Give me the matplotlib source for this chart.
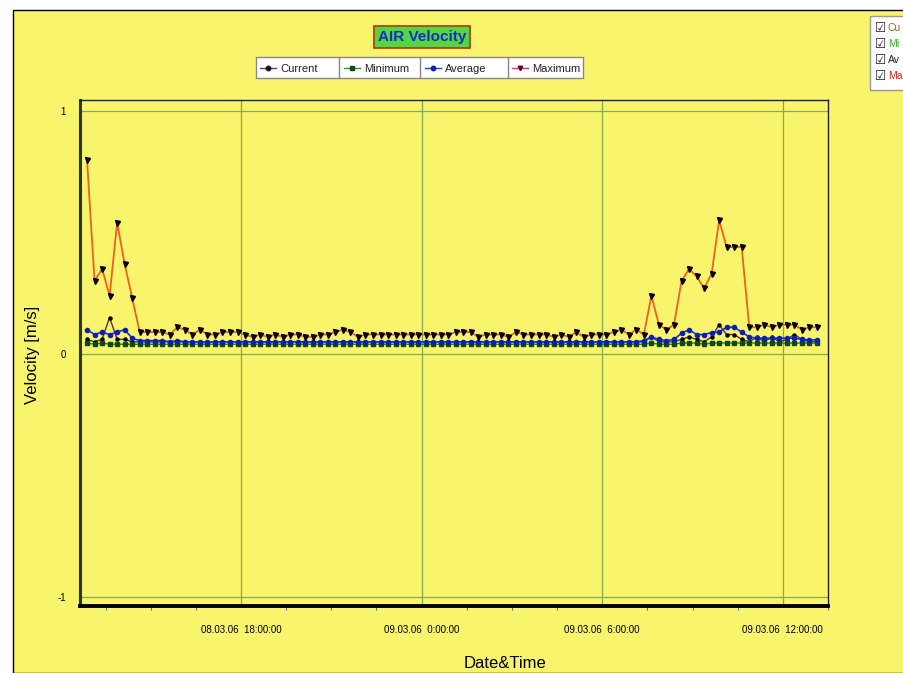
import pandas as pd
import matplotlib
matplotlib.use("Agg")
import matplotlib.pyplot as plt
from matplotlib.lines import Line2D
from matplotlib.patches import Rectangle

# sampling: every 15 minutes from 08.03.06 12:53
times = pd.date_range("2006-03-08 12:53", periods=98, freq="15min")

max_vals = [0.80, 0.30, 0.35, 0.24, 0.54, 0.37, 0.23, 0.09, 0.09, 0.09,
            0.09, 0.08, 0.11, 0.10, 0.08, 0.10, 0.08, 0.08, 0.09, 0.09,
            0.09, 0.08, 0.07, 0.08, 0.07, 0.08, 0.07, 0.08, 0.08, 0.07,
            0.07, 0.08, 0.08, 0.09, 0.10, 0.09, 0.07, 0.08, 0.08, 0.08,
            0.08, 0.08, 0.08, 0.08, 0.08, 0.08, 0.08, 0.08, 0.08, 0.09,
            0.09, 0.09, 0.07, 0.08, 0.08, 0.08, 0.07, 0.09, 0.08, 0.08,
            0.08, 0.08, 0.07, 0.08, 0.07, 0.09, 0.07, 0.08, 0.08, 0.08,
            0.09, 0.10, 0.08, 0.10, 0.08, 0.24, 0.12, 0.10, 0.12, 0.30,
            0.35, 0.32, 0.27, 0.33, 0.55, 0.44, 0.44, 0.44, 0.11, 0.11,
            0.12, 0.11, 0.12, 0.12, 0.12, 0.10, 0.11, 0.11]

avg_vals = [0.10, 0.08, 0.09, 0.08, 0.09, 0.10, 0.065, 0.055, 0.055, 0.055,
            0.055, 0.05, 0.055, 0.05, 0.05, 0.05, 0.05, 0.05, 0.05, 0.05,
            0.05, 0.05, 0.05, 0.05, 0.05, 0.05, 0.05, 0.05, 0.05, 0.05,
            0.05, 0.05, 0.05, 0.05, 0.05, 0.05, 0.05, 0.05, 0.05, 0.05,
            0.05, 0.05, 0.05, 0.05, 0.05, 0.05, 0.05, 0.05, 0.05, 0.05,
            0.05, 0.05, 0.05, 0.05, 0.05, 0.05, 0.05, 0.05, 0.05, 0.05,
            0.05, 0.05, 0.05, 0.05, 0.05, 0.05, 0.05, 0.05, 0.05, 0.05,
            0.05, 0.05, 0.05, 0.05, 0.055, 0.07, 0.06, 0.055, 0.06, 0.085,
            0.10, 0.08, 0.08, 0.088, 0.09, 0.11, 0.11, 0.09, 0.07, 0.065,
            0.065, 0.065, 0.065, 0.065, 0.065, 0.06, 0.058, 0.058]

min_vals = [0.045, 0.04, 0.045, 0.04, 0.04, 0.04, 0.04, 0.04, 0.04, 0.04,
            0.04, 0.04, 0.04, 0.04, 0.04, 0.04, 0.04, 0.04, 0.04, 0.04,
            0.04, 0.04, 0.04, 0.04, 0.04, 0.04, 0.04, 0.04, 0.04, 0.04,
            0.04, 0.04, 0.04, 0.04, 0.04, 0.04, 0.04, 0.04, 0.04, 0.04,
            0.04, 0.04, 0.04, 0.04, 0.04, 0.04, 0.04, 0.04, 0.04, 0.04,
            0.04, 0.04, 0.04, 0.04, 0.04, 0.04, 0.04, 0.04, 0.04, 0.04,
            0.04, 0.04, 0.04, 0.04, 0.04, 0.04, 0.04, 0.04, 0.04, 0.04,
            0.04, 0.04, 0.04, 0.04, 0.04, 0.045, 0.04, 0.04, 0.04, 0.045,
            0.045, 0.045, 0.04, 0.045, 0.045, 0.045, 0.045, 0.045, 0.045, 0.045,
            0.045, 0.045, 0.045, 0.045, 0.045, 0.045, 0.045, 0.045]

cur_vals = [0.06, 0.05, 0.06, 0.15, 0.06, 0.06, 0.05, 0.05, 0.05, 0.05,
            0.05, 0.05, 0.05, 0.05, 0.05, 0.05, 0.05, 0.05, 0.05, 0.05,
            0.05, 0.05, 0.05, 0.05, 0.05, 0.05, 0.05, 0.05, 0.05, 0.05,
            0.05, 0.05, 0.05, 0.05, 0.05, 0.05, 0.05, 0.05, 0.05, 0.05,
            0.05, 0.05, 0.05, 0.05, 0.05, 0.05, 0.05, 0.05, 0.05, 0.05,
            0.05, 0.05, 0.05, 0.05, 0.05, 0.05, 0.05, 0.05, 0.05, 0.05,
            0.05, 0.05, 0.05, 0.05, 0.05, 0.05, 0.05, 0.05, 0.05, 0.05,
            0.05, 0.05, 0.05, 0.05, 0.05, 0.07, 0.05, 0.05, 0.05, 0.06,
            0.07, 0.06, 0.05, 0.07, 0.12, 0.08, 0.08, 0.06, 0.05, 0.07,
            0.05, 0.07, 0.05, 0.06, 0.08, 0.06, 0.05, 0.05]

tick_times = ["2006-03-08 18:00", "2006-03-09 00:00", "2006-03-09 06:00", "2006-03-09 12:00"]
tick_labels = ["08.03.06  18:00:00", "09.03.06  0:00:00", "09.03.06  6:00:00", "09.03.06  12:00:00"]
legend_names = ["Current", "Minimum", "Average", "Maximum"]
# the check-box list at the right edge is cut off by the picture border
check_names = ["Cu", "Mi", "Av", "Ma"]

W, H = 904, 673
yellow = "#F8F46C"
grid_c = "#86AA4E"
narrow = ["Liberation Sans Narrow", "Liberation Sans", "DejaVu Sans"]

def fx(x):
    return x / W

def fy(y):
    return 1 - y / H

fig = plt.figure(figsize=(W / 100, H / 100), dpi=100, facecolor="white")
# yellow panel with thin black border on top/left
fig.patches.append(Rectangle((fx(13), 0), 1 - fx(13), fy(10), transform=fig.transFigure,
                             facecolor=yellow, edgecolor="black", linewidth=1, zorder=-5))

ax = fig.add_axes([fx(80), fy(606), fx(828) - fx(80), fy(100) - fy(606)])
ax.set_facecolor(yellow)

ax.plot(times, cur_vals, color="#5A2A55", lw=1, marker="o", ms=2.2, mfc="black", mec="black", zorder=3)
ax.plot(times, min_vals, color="#1F8A1F", lw=1, marker="s", ms=3, mfc="#0E4A12", mec="#0E4A12", zorder=3)
ax.plot(times, avg_vals, color="#1530E0", lw=1.2, marker="o", ms=3, mfc="#0A20B0", mec="#0A20B0", zorder=4)
ax.plot(times, max_vals, color="#F0601E", lw=1.3, marker="v", ms=3.6, mfc="black", mec="black", zorder=5)

ax.set_ylim(-1.037, 1.045)
ax.set_xlim(pd.Timestamp("2006-03-08 12:39"), pd.Timestamp("2006-03-09 13:30"))
ax.set_yticks([-1, 0, 1])
ax.set_yticklabels(["-1", "0", "1"], fontsize=7, family="Liberation Sans")
ax.tick_params(axis="y", length=0, pad=10)

ax.set_xticks([pd.Timestamp(t) for t in tick_times])
ax.set_xticklabels(tick_labels, fontsize=7, family=narrow)
ax.set_xticks(pd.date_range("2006-03-08 13:30", "2006-03-09 13:30", freq="90min"), minor=True)
ax.tick_params(axis="x", which="major", length=0, pad=14)
ax.tick_params(axis="x", which="minor", length=3, color="#555555")

ax.grid(True, which="major", color=grid_c, lw=0.9)
for s in ["top", "right"]:
    ax.spines[s].set_linewidth(1)
    ax.spines[s].set_color("#222222")
ax.spines["left"].set_linewidth(2.2)
ax.spines["left"].set_color("#333333")
ax.spines["bottom"].set_linewidth(2.8)
ax.spines["bottom"].set_color("black")

ax.set_xlabel("Date&Time", fontsize=12, family="Liberation Sans")
ax.xaxis.set_label_coords(0.568, -0.113)
ax.xaxis.label.set_verticalalignment("center")
ax.set_ylabel("Velocity [m/s]", fontsize=12, family="Liberation Sans")
ax.yaxis.set_label_coords(-0.064, 0.496)
ax.yaxis.label.set_verticalalignment("center")

# title box
fig.text(fx(422), fy(37), "AIR Velocity", ha="center", va="center", fontsize=11,
         fontweight="bold", color="#1A2AC8", family="Liberation Sans",
         bbox=dict(boxstyle="square,pad=0.25", facecolor="#4FD840", edgecolor="#C03010", linewidth=1.2))

# legend strip
fig.patches.append(Rectangle((fx(256), fy(78)), fx(583) - fx(256), fy(57) - fy(78), transform=fig.transFigure,
                             facecolor="white", edgecolor="#888888", linewidth=1, zorder=1))
leg_line_c = ["#7A3090", "#2A9A2A", "#2A40E0", "#E0307A"]
leg_mark_c = ["#201020", "#0E4A12", "#1020B0", "#600020"]
leg_mark = ["o", "s", "o", "v"]
leg_x = [260, 344, 425, 512]
leg_sep = [339, 420, 508]
for i, name in enumerate(legend_names):
    x0 = leg_x[i]
    fig.add_artist(Line2D([fx(x0), fx(x0 + 8), fx(x0 + 16)], [fy(67.5)] * 3, transform=fig.transFigure,
                          color=leg_line_c[i], lw=1, marker=leg_mark[i], markevery=[1], ms=3.2,
                          mfc=leg_mark_c[i], mec=leg_mark_c[i], zorder=2))
    fig.text(fx(x0 + 20), fy(68.5), name, ha="left", va="center", fontsize=8,
             family=narrow, color="#222222", zorder=2)
for xs in leg_sep:
    fig.add_artist(Line2D([fx(xs), fx(xs)], [fy(57), fy(78)], transform=fig.transFigure,
                          color="#888888", lw=1, zorder=2))

# check-box legend at the right edge
fig.patches.append(Rectangle((fx(870), fy(90)), 1 - fx(870), fy(16) - fy(90), transform=fig.transFigure,
                             facecolor="white", edgecolor="#999999", linewidth=1, zorder=1))
chk_colors = ["#B06010", "#30B020", "#202020", "#E02020"]
chk_y = [28, 44, 60, 76]
for i, name in enumerate(check_names):
    fig.text(fx(875), fy(chk_y[i]), "\u2611", ha="left", va="center", fontsize=9,
             family="DejaVu Sans", color="#202020", zorder=2)
    fig.text(fx(888), fy(chk_y[i]), name, ha="left", va="center", fontsize=7.5,
             family="Liberation Sans", color=chk_colors[i], zorder=2)

fig.savefig("out.png", dpi=100, facecolor=fig.get_facecolor())
